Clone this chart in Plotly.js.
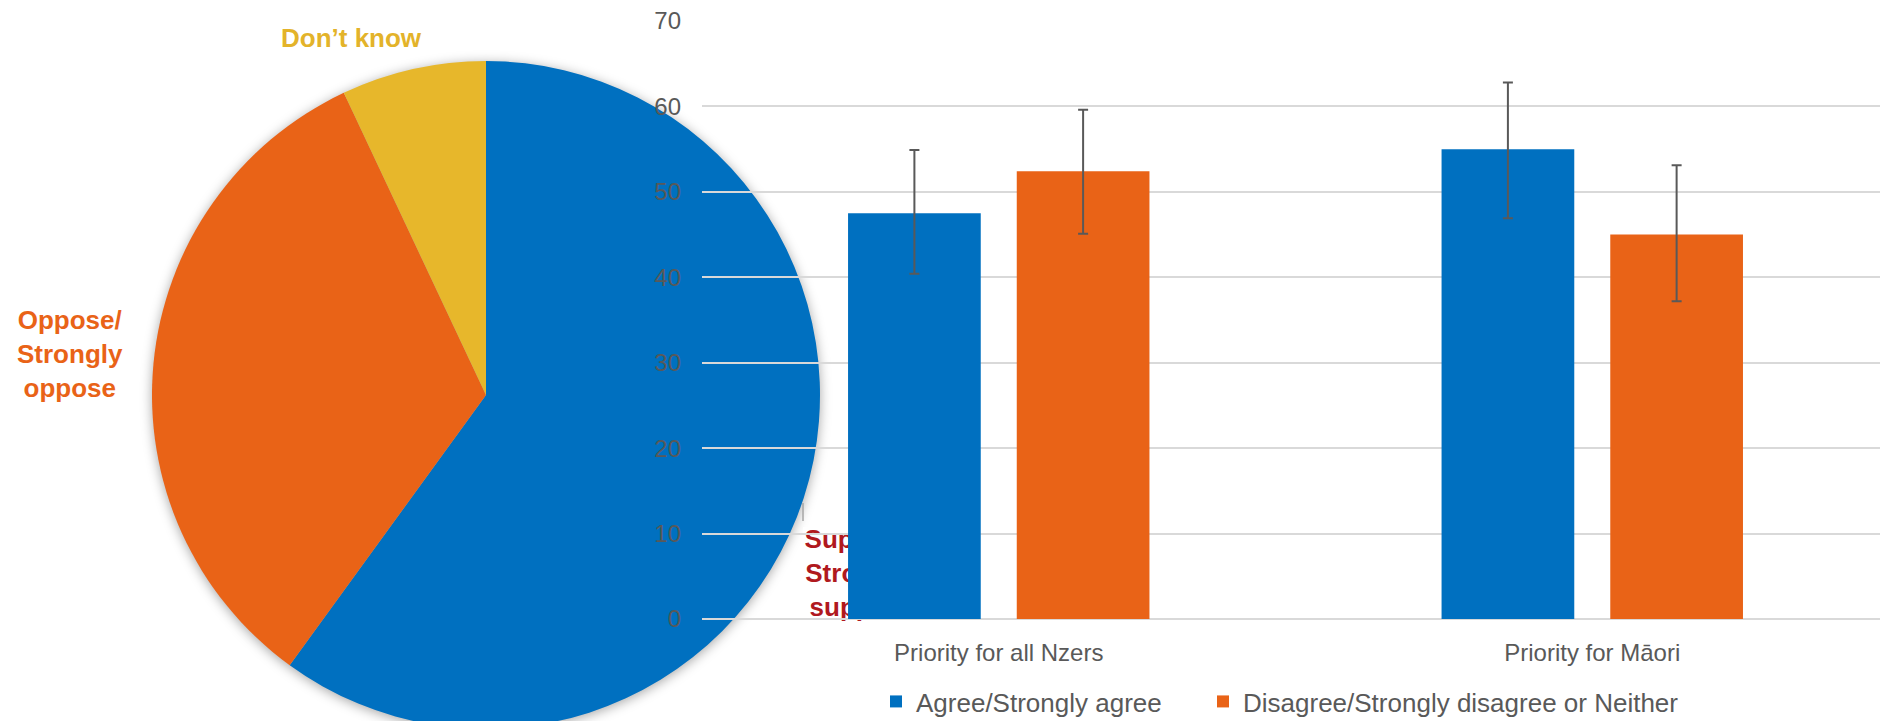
<!DOCTYPE html>
<html>
<head>
<meta charset="utf-8">
<script src="https://cdn.plot.ly/plotly-3.0.1.min.js"></script>
<style>
  html, body { margin: 0; padding: 0; width: 1880px; height: 721px; overflow: hidden; background: #ffffff; }
  #pie { position: absolute; left: 0; top: 0; width: 1880px; height: 740px; }
  #bars { position: absolute; left: 0; top: 0; width: 1880px; height: 721px; }
  #pie .pielayer { filter: drop-shadow(0px 2px 6px rgba(0,0,0,0.35)); }
</style>
</head>
<body>
<div id="pie"></div>
<div id="bars"></div>
<script>
// ---- Pie data ----
const pieLabels = ['Support/Strongly support', 'Oppose/Strongly oppose', 'Don\u2019t know'];
const pieValues = [60, 33, 7];
const pieColors = ['#0070C0', '#E96317', '#E7B72B'];
const pieLabelText = ['Support/<br>Strongly<br>support', 'Oppose/<br>Strongly<br>oppose', 'Don\u2019t know'];
const pieLabelColors = ['#B0191E', '#E96317', '#E3B32A'];

// ---- Bar data ----
const categories = ['Priority for all Nzers', 'Priority for M\u0101ori'];
const seriesNames = ['Agree/Strongly agree', 'Disagree/Strongly disagree or Neither'];
const agree = [47.5, 55.0];
const agreePlus = [7.4, 7.8];
const agreeMinus = [7.1, 8.1];
const disagree = [52.4, 45.0];
const disagreePlus = [7.2, 8.1];
const disagreeMinus = [7.3, 7.8];
const barColors = ['#0070C0', '#E96317'];
const yTicks = [0, 10, 20, 30, 40, 50, 60, 70];

const FONT = '"Liberation Sans", Arial, sans-serif';
const GRAY = '#595959';

// ---- Pie (bottom layer) ----
Plotly.newPlot('pie', [{
  type: 'pie',
  labels: pieLabels,
  values: pieValues,
  marker: { colors: pieColors, line: { width: 0 } },
  sort: false,
  direction: 'clockwise',
  rotation: 0,
  textinfo: 'none',
  hoverinfo: 'label+percent',
  domain: { x: [152 / 1880, 820 / 1880], y: [11 / 740, 679 / 740] }
}], {
  width: 1880, height: 740,
  margin: { l: 0, r: 0, t: 0, b: 0, autoexpand: false },
  showlegend: false,
  paper_bgcolor: '#ffffff',
  annotations: [
    { xref: 'paper', yref: 'paper', x: 351 / 1880, y: 1 - 38 / 740, text: '<b>' + pieLabelText[2] + '</b>',
      showarrow: false, xanchor: 'center', yanchor: 'middle',
      font: { family: FONT, size: 26, color: pieLabelColors[2] } },
    { xref: 'paper', yref: 'paper', x: 70 / 1880, y: 1 - 354 / 740, text: '<b>' + pieLabelText[1] + '</b>',
      showarrow: false, xanchor: 'center', yanchor: 'middle', align: 'center',
      font: { family: FONT, size: 26, color: pieLabelColors[1] } }
  ],
  shapes: [
    { type: 'line', xref: 'paper', yref: 'paper', x0: 803 / 1880, x1: 803 / 1880, y0: 1 - 503 / 740, y1: 1 - 521 / 740,
      line: { color: '#A6A6A6', width: 1.5 } }
  ]
}, { staticPlot: true });

// ---- Bars (top layer, transparent) ----
const traces = [
  { type: 'bar', name: seriesNames[0], x: categories, y: agree, legend: 'legend',
    marker: { color: barColors[0] },
    error_y: { type: 'data', symmetric: false, array: agreePlus, arrayminus: agreeMinus, color: GRAY, thickness: 2, width: 5 } },
  { type: 'bar', name: seriesNames[1], x: categories, y: disagree, legend: 'legend2',
    marker: { color: barColors[1] },
    error_y: { type: 'data', symmetric: false, array: disagreePlus, arrayminus: disagreeMinus, color: GRAY, thickness: 2, width: 5 } }
];

const legendBase = {
  orientation: 'h', xanchor: 'left',
  y: -0.138, yanchor: 'middle',
  font: { family: FONT, size: 26, color: GRAY },
  bgcolor: 'rgba(0,0,0,0)'
};

Plotly.newPlot('bars', traces, {
  width: 1880, height: 721,
  margin: { l: 702, r: 0, t: 21, b: 102, autoexpand: false },
  paper_bgcolor: 'rgba(0,0,0,0)',
  plot_bgcolor: 'rgba(0,0,0,0)',
  barmode: 'group',
  bargap: 0.4315,
  bargroupgap: 0.2134,
  font: { family: FONT, color: GRAY },
  xaxis: {
    type: 'category',
    range: [-0.5, 1.4848],
    automargin: false,
    showgrid: false, showline: false, zeroline: false, ticks: '',
    tickfont: { family: FONT, size: 24, color: GRAY },
    ticklabelstandoff: 17
  },
  yaxis: {
    range: [0, 70],
    automargin: false,
    tickvals: yTicks,
    showgrid: true, gridcolor: '#D9D9D9', gridwidth: 2,
    zeroline: true, zerolinecolor: '#D9D9D9', zerolinewidth: 2,
    showline: false, ticks: '',
    tickfont: { family: FONT, size: 24, color: GRAY },
    ticklabelstandoff: 20
  },
  showlegend: true,
  legend: Object.assign({}, legendBase, { x: (876 - 702) / 1178 }),
  legend2: Object.assign({}, legendBase, { x: (1203 - 702) / 1178 }),
  shapes: [
    { type: 'rect', layer: 'between', xref: 'paper', yref: 'paper',
      x0: (803 - 702) / 1178, x1: (913 - 702) / 1178, y0: 4 / 598, y1: 92 / 598,
      fillcolor: '#ffffff', line: { width: 0 },
      label: { text: '<b>' + pieLabelText[0] + '</b>', textposition: 'middle center',
               font: { family: FONT, size: 26, color: pieLabelColors[0] } } }
  ]
}, { staticPlot: true });
</script>
</body>
</html>
